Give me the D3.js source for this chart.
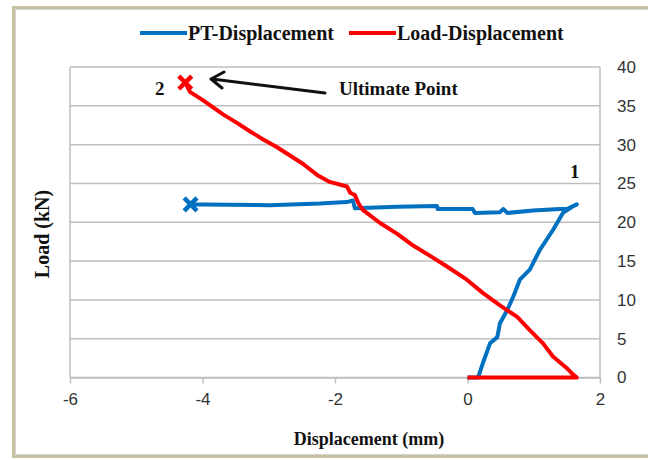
<!DOCTYPE html>
<html>
<head>
<meta charset="utf-8">
<script src="https://cdn.jsdelivr.net/npm/d3@7"></script>
<style>
  body { margin: 0; background: #fff; }
  svg { display: block; }
</style>
</head>
<body>
<svg id="chart" width="648" height="460"></svg>
<script>
// PT-Displacement: [displacement mm, load kN]
const ptDisplacement = [
  [0, 0], [0.16, 0], [0.23, 1.8], [0.34, 4.4], [0.45, 5.2], [0.49, 7.0],
  [0.60, 8.7], [0.69, 10.4], [0.79, 12.6], [0.94, 13.9], [1.09, 16.4],
  [1.29, 19.0], [1.44, 21.2], [1.58, 22.0], [1.65, 22.3], [1.50, 21.7],
  [1.40, 21.7], [0.99, 21.5], [0.60, 21.2], [0.54, 21.7], [0.49, 21.3],
  [0.11, 21.2], [0.08, 21.7], [-0.45, 21.7], [-0.46, 22.1], [-1.06, 22.0],
  [-1.70, 21.8], [-1.73, 22.8], [-1.82, 22.6], [-2.23, 22.4], [-2.98, 22.2],
  [-3.99, 22.3], [-4.18, 22.3]
];

// Load-Displacement
const loadDisplacement = [
  [0, 0], [1.65, 0], [1.59, 0.4], [1.50, 1.2], [1.29, 2.7], [1.14, 4.4],
  [0.94, 6.1], [0.75, 7.8], [0.49, 9.3], [0.23, 10.9], [-0.01, 12.6],
  [-0.31, 14.3], [-0.57, 15.7], [-0.82, 17.0], [-1.06, 18.5], [-1.32, 19.9],
  [-1.58, 21.6], [-1.65, 22.5], [-1.70, 23.5], [-1.77, 23.8], [-1.82, 24.6],
  [-2.08, 25.2], [-2.27, 26.1], [-2.48, 27.5], [-2.68, 28.6], [-2.88, 29.7],
  [-3.09, 30.7], [-3.28, 31.7], [-3.48, 32.8], [-3.69, 33.9], [-3.84, 34.8],
  [-3.99, 35.7], [-4.19, 36.8], [-4.26, 38.0]
];

const xTicks = [-6, -4, -2, 0, 2];
const yTicks = [0, 5, 10, 15, 20, 25, 30, 35, 40];
const seriesNames = ["PT-Displacement", "Load-Displacement"];
const seriesColors = ["#0070c0", "#ff0000"];

const serif = "Liberation Serif, Times New Roman, serif";
const sans = "Liberation Sans, Arial, sans-serif";

const svg = d3.select("#chart");

// outer frame
svg.append("rect")
  .attr("x", 13.5).attr("y", 7.5)
  .attr("width", 640).attr("height", 449)
  .attr("fill", "none")
  .attr("stroke", "#c9c2a2")
  .attr("stroke-width", 3);
svg.append("rect")
  .attr("x", 15.5).attr("y", 9.5)
  .attr("width", 636).attr("height", 445)
  .attr("fill", "none")
  .attr("stroke", "#d4d4d4")
  .attr("stroke-width", 1);

const x = d3.scaleLinear().domain([-6, 2]).range([70, 600]);
const y = d3.scaleLinear().domain([0, 40]).range([377.5, 67]);

// gridlines
svg.append("g")
  .attr("stroke", "#bfbfbf")
  .attr("stroke-width", 1.5)
  .selectAll("line")
  .data(yTicks)
  .enter().append("line")
    .attr("x1", x(-6)).attr("x2", x(2))
    .attr("y1", d => y(d)).attr("y2", d => y(d));

// plot sides
svg.append("g")
  .attr("stroke", "#bfbfbf")
  .attr("stroke-width", 1.5)
  .selectAll("line")
  .data([-6, 2])
  .enter().append("line")
    .attr("x1", d => x(d)).attr("x2", d => x(d))
    .attr("y1", y(40)).attr("y2", y(0));

// x axis
const xAxis = svg.append("g")
  .attr("transform", "translate(0," + y(0) + ")")
  .call(d3.axisBottom(x).tickValues(xTicks).tickFormat(d => String(d))
    .tickSize(6).tickSizeOuter(0).tickPadding(9));
xAxis.select(".domain").attr("stroke", "#bfbfbf").attr("stroke-width", 1.5);
xAxis.selectAll(".tick line").attr("stroke", "#bfbfbf").attr("stroke-width", 1.5);
xAxis.selectAll(".tick text")
  .attr("font-family", sans)
  .attr("font-size", 17)
  .attr("fill", "#333");

// y axis on the right
const yAxis = svg.append("g")
  .attr("transform", "translate(" + x(2) + ",0)")
  .call(d3.axisRight(y).tickValues(yTicks).tickSize(0).tickPadding(17));
yAxis.select(".domain").remove();
yAxis.selectAll(".tick text")
  .attr("font-family", sans)
  .attr("font-size", 17)
  .attr("fill", "#333");

// series
const line = d3.line()
  .x(d => x(d[0]))
  .y(d => y(d[1]));

const series = [ptDisplacement, loadDisplacement];

svg.append("g")
  .attr("fill", "none")
  .attr("stroke-width", 4)
  .attr("stroke-linejoin", "round")
  .selectAll("path")
  .data(series)
  .enter().append("path")
    .attr("stroke", (d, i) => seriesColors[i])
    .attr("d", line);

// end markers
const cross = d3.symbol().type(d3.symbolX).size(110);
svg.append("g")
  .attr("fill", "none")
  .attr("stroke-width", 4.5)
  .selectAll("path")
  .data(series)
  .enter().append("path")
    .attr("stroke", (d, i) => seriesColors[i])
    .attr("transform", d => {
      const last = d[d.length - 1];
      return "translate(" + x(last[0]) + "," + y(last[1]) + ")";
    })
    .attr("d", cross);

// legend
const legend = svg.append("g")
  .attr("font-family", serif)
  .attr("font-weight", "bold")
  .attr("font-size", 20);
const legendX = [140, 349];
seriesNames.forEach((name, i) => {
  legend.append("line")
    .attr("x1", legendX[i]).attr("x2", legendX[i] + 47)
    .attr("y1", 33).attr("y2", 33)
    .attr("stroke", seriesColors[i])
    .attr("stroke-width", 4);
  legend.append("text")
    .attr("x", legendX[i] + 48)
    .attr("y", 40)
    .attr("fill", "#111")
    .text(name);
});

// axis titles
svg.append("text")
  .attr("x", 369).attr("y", 445)
  .attr("text-anchor", "middle")
  .attr("font-family", serif)
  .attr("font-weight", "bold")
  .attr("font-size", 18)
  .attr("fill", "#111")
  .text("Displacement (mm)");

svg.append("text")
  .attr("transform", "translate(49,234) rotate(-90)")
  .attr("text-anchor", "middle")
  .attr("font-family", serif)
  .attr("font-weight", "bold")
  .attr("font-size", 20)
  .attr("fill", "#111")
  .text("Load (kN)");

// annotations
const notes = svg.append("g")
  .attr("font-family", serif)
  .attr("font-weight", "bold")
  .attr("font-size", 19)
  .attr("fill", "#111");
notes.append("text").attr("x", 155).attr("y", 95).text("2");
notes.append("text").attr("x", 570).attr("y", 178).text("1");
notes.append("text").attr("x", 339).attr("y", 95).text("Ultimate Point");

svg.append("path")
  .attr("d", "M325,93 L212,79 M224,72 L211,79 L222,88")
  .attr("fill", "none")
  .attr("stroke", "#111")
  .attr("stroke-width", 3)
  .attr("stroke-linecap", "round")
  .attr("stroke-linejoin", "round");
</script>
</body>
</html>
